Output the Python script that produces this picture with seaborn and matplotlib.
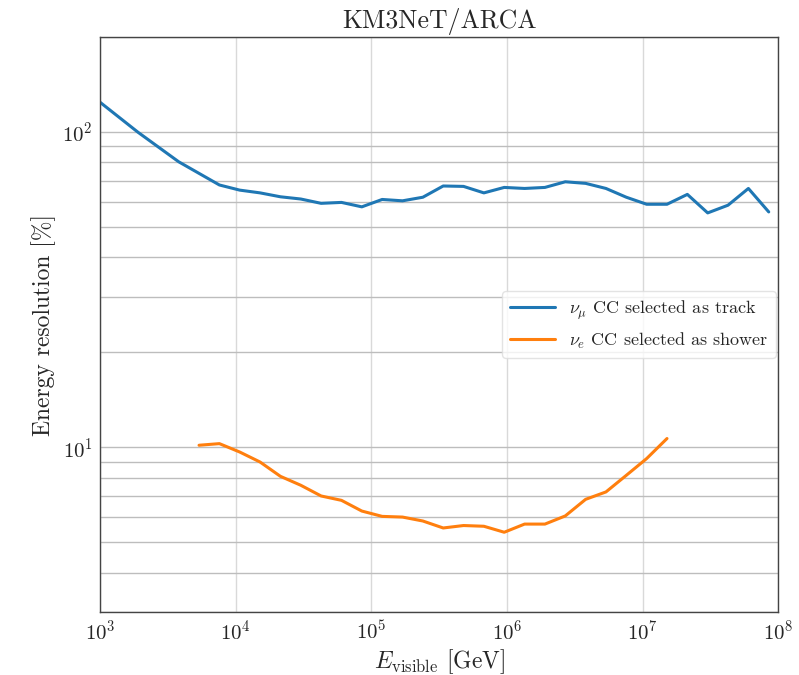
import numpy as np
import pandas as pd
import matplotlib
matplotlib.use("Agg")
import matplotlib.pyplot as plt
import seaborn as sns
from matplotlib.ticker import LogLocator, NullFormatter

# ---- data ----
track_logE = [3.00, 3.28, 3.58, 3.88, 4.03, 4.18, 4.33, 4.48, 4.63, 4.78, 4.93,
              5.08, 5.23, 5.38, 5.53, 5.68, 5.83, 5.98, 6.13, 6.28, 6.43, 6.58,
              6.73, 6.88, 7.03, 7.18, 7.33, 7.48, 7.63, 7.78, 7.93]
track_res = [124.0, 99.6, 80.3, 67.8, 65.3, 64.0, 62.2, 61.2, 59.3, 59.7, 57.8,
             61.0, 60.4, 62.0, 67.3, 67.1, 64.0, 66.6, 66.1, 66.6, 69.4, 68.6,
             66.1, 62.0, 58.9, 58.9, 63.3, 55.3, 58.5, 66.1, 55.7]

shower_logE = [3.73, 3.88, 4.03, 4.18, 4.33, 4.48, 4.63, 4.78, 4.93, 5.08, 5.23,
               5.38, 5.53, 5.68, 5.83, 5.98, 6.13, 6.28, 6.43, 6.58, 6.73, 6.88,
               7.03, 7.18]
shower_res = [10.15, 10.27, 9.66, 8.98, 8.09, 7.58, 7.01, 6.79, 6.28, 6.04, 6.01,
              5.84, 5.55, 5.65, 5.62, 5.38, 5.71, 5.71, 6.06, 6.84, 7.22, 8.15,
              9.21, 10.66]

labels = [r"$\nu_\mu$ CC selected as track", r"$\nu_e$ CC selected as shower"]
colors = ["#1f77b4", "#ff7f0e"]

df = pd.concat([
    pd.DataFrame({"E": 10 ** np.array(track_logE), "res": track_res, "sel": labels[0]}),
    pd.DataFrame({"E": 10 ** np.array(shower_logE), "res": shower_res, "sel": labels[1]}),
], ignore_index=True)

sns.set_style("white")
plt.rcParams["font.family"] = ["serif"]
plt.rcParams["font.serif"] = ["cmr10", "DejaVu Serif"]
plt.rcParams["mathtext.fontset"] = "cm"
plt.rcParams["axes.formatter.use_mathtext"] = True

fig = plt.figure(figsize=(7.99, 6.75), dpi=100)
ax = fig.add_axes([0.1252, 0.0929, 0.974 - 0.1252, 0.9456 - 0.0929])

sns.lineplot(data=df, x="E", y="res", hue="sel", palette=colors, linewidth=2.2,
             ax=ax, legend=True, sort=False)

ax.set_xscale("log")
ax.set_yscale("log")
ax.set_xlim(1e3, 1e8)
ax.set_ylim(3, 200)

ax.xaxis.set_minor_locator(LogLocator(base=10, subs=np.arange(2, 10), numticks=20))
ax.xaxis.set_minor_formatter(NullFormatter())
ax.yaxis.set_minor_formatter(NullFormatter())

ax.grid(True, which="major", axis="x", color="#d9d9d9", linewidth=1.0)
ax.grid(True, which="both", axis="y", color="#bdbdbd", linewidth=1.0)

for s in ax.spines.values():
    s.set_color("#444444")
    s.set_linewidth(1.0)
ax.tick_params(which="major", direction="out", length=3.5, width=0.9, color="#444444",
               labelsize=15, pad=2)
ax.tick_params(which="minor", direction="out", length=2, width=0.7, color="#444444")
ax.tick_params(axis="y", which="minor", length=0)

ax.set_title("KM3NeT/ARCA", fontsize=18.5, pad=6)
ax.set_xlabel(r"$E_{\rm visible}$ [GeV]", fontsize=17, labelpad=2)
ax.set_ylabel("Energy resolution [%]", fontsize=17)

ax.legend(title=None, loc="center right", fontsize=13, frameon=True,
          framealpha=0.8, edgecolor="#dddddd", handlelength=2.5,
          borderaxespad=0.15)

fig.savefig("out.png", dpi=100)
